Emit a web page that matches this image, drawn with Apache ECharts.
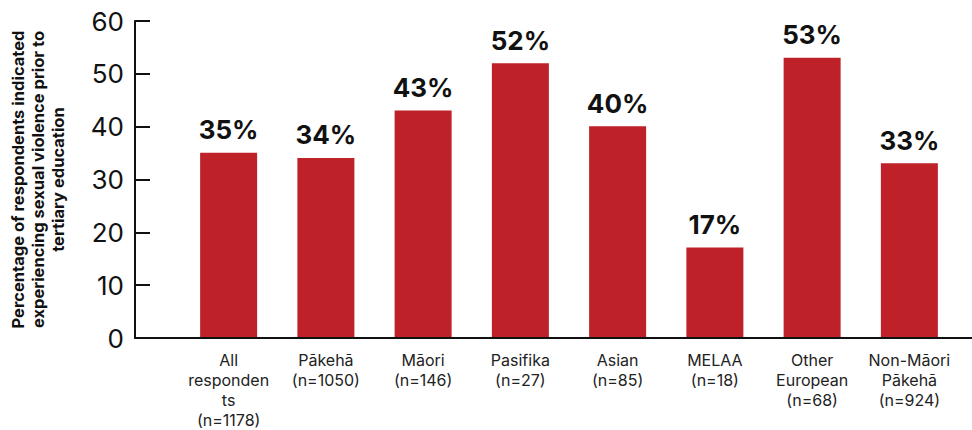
<!DOCTYPE html>
<html>
<head>
<meta charset="utf-8">
<script src="https://cdn.jsdelivr.net/npm/echarts@6/dist/echarts.min.js"></script>
<style>
  html, body { margin: 0; padding: 0; background: #fff; }
  #chart { width: 972px; height: 430px; }
</style>
</head>
<body>
<div id="chart"></div>
<script>
// categories and values
var categories = [
    'All\nresponden\nts\n(n=1178)',
    'Pākehā\n(n=1050)',
    'Māori\n(n=146)',
    'Pasifika\n(n=27)',
    'Asian\n(n=85)',
    'MELAA\n(n=18)',
    'Other\nEuropean\n(n=68)',
    'Non-Māori\nPākehā\n(n=924)'
];
var percentages = [35, 34, 43, 52, 40, 17, 53, 33];
var yTicks = [0, 10, 20, 30, 40, 50, 60];

(function() {
    var ink = '#111';
    var red = '#BF2129';
    var font = 'Inter, Arial, sans-serif';

    var chart = echarts.init(document.getElementById('chart'), null, { renderer: 'svg' });

    var option = {
        backgroundColor: '#fff',
        animation: false,
        textStyle: { fontFamily: font },
        grid: [
            // frame grid: y axis and full-width baseline
            { left: 135, right: 0, top: 21, bottom: 92 },
            // bar grid
            { left: 180, right: 14, top: 21, bottom: 92 }
        ],
        xAxis: [{
            gridIndex: 0,
            type: 'value',
            min: 0,
            max: 1,
            axisLine: { show: true, lineStyle: { color: ink, width: 2 } },
            axisTick: { show: false },
            axisLabel: { show: false },
            splitLine: { show: false }
        }, {
            gridIndex: 1,
            type: 'category',
            data: categories,
            axisLine: { show: false },
            axisTick: { show: false },
            axisLabel: {
                color: '#222',
                fontFamily: font,
                fontSize: 16,
                lineHeight: 20,
                margin: 13,
                interval: 0
            }
        }],
        yAxis: [{
            gridIndex: 0,
            type: 'value',
            min: yTicks[0],
            max: yTicks[yTicks.length - 1],
            interval: yTicks[1] - yTicks[0],
            name: 'Percentage of respondents indicated\nexperiencing sexual violence prior to\ntertiary education',
            nameLocation: 'middle',
            nameGap: 67,
            nameTextStyle: {
                color: ink,
                fontFamily: font,
                fontSize: 16.5,
                fontWeight: 'bold',
                lineHeight: 20,
                align: 'center'
            },
            axisLine: { show: true, lineStyle: { color: ink, width: 2 } },
            axisTick: { show: true, inside: true, length: 15, lineStyle: { color: ink, width: 2 } },
            axisLabel: { color: ink, fontFamily: font, fontSize: 26, margin: 11 },
            splitLine: { show: false }
        }, {
            gridIndex: 1,
            type: 'value',
            min: yTicks[0],
            max: yTicks[yTicks.length - 1],
            show: false
        }],
        series: [{
            type: 'bar',
            xAxisIndex: 1,
            yAxisIndex: 1,
            data: percentages,
            barWidth: 57,
            itemStyle: { color: red },
            label: {
                show: true,
                position: 'top',
                distance: 10,
                formatter: '{c}%',
                color: ink,
                fontFamily: font,
                fontSize: 26,
                fontWeight: 'bold'
            }
        }]
    };

    chart.setOption(option);
    window.addEventListener('resize', function() {
        chart.resize();
    });
})();
</script>
</body>
</html>
